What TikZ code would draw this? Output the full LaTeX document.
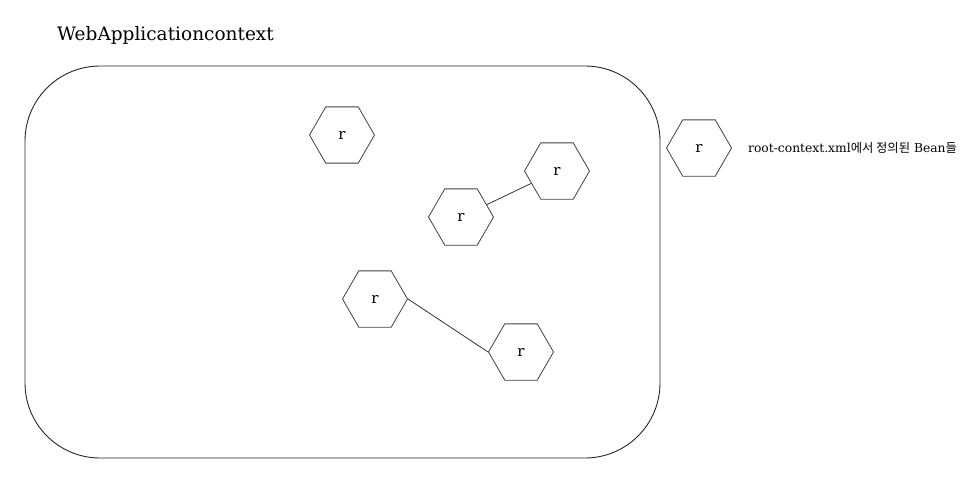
\documentclass[tikz,border=0pt]{standalone}
\usepackage{fontspec}
\setmainfont{Liberation Serif}
\newfontfamily\slab{DejaVu Serif}
\newfontfamily\kr{Noto Sans CJK KR}
\usetikzlibrary{shapes.geometric}
\tikzset{
  bean/.style={draw, line width=0.8pt, draw=black!75, regular polygon, regular polygon sides=6,
    minimum size=65pt, inner sep=0pt, font=\slab\fontsize{15}{15}\selectfont},
  link/.style={draw=black!80, line width=0.8pt},
  ctx/.style={draw=black!85, line width=0.9pt, rounded corners=75pt}
}
\begin{document}
\begin{tikzpicture}[x=1pt,y=-1pt]
\useasboundingbox (0,0) rectangle (977,477);
\node[anchor=base west, font=\slab\fontsize{18.5}{18.5}\selectfont, inner sep=0pt] (title) at (57,40) {WebApplicationcontext};
\draw[ctx] (25,66) rectangle (660,458);
\node[bean] (h1) at (342,135) {r};
\node[bean] (h2) at (557,171) {r};
\node[bean] (h3) at (461,217) {r};
\node[bean] (h4) at (375,299) {r};
\node[bean] (h5) at (521,352) {r};
\node[bean] (h6) at (699,148) {r};
\node[anchor=west, inner sep=0pt, font=\slab\fontsize{12.3}{12.3}\selectfont] (legend) at (748,148) {root-context.xml{\kr 에서 정의된} Bean{\kr 들}};
\draw[link] (h3) -- (h2);
\draw[link] (h4.east) -- (h5.west);
\end{tikzpicture}
\end{document}
